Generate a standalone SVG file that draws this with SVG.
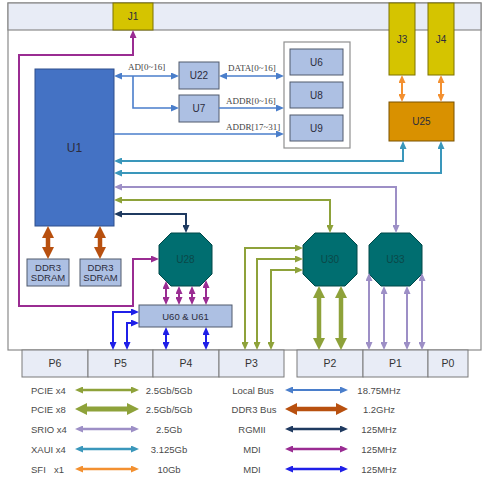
<svg xmlns="http://www.w3.org/2000/svg" width="493" height="484" viewBox="0 0 493 484">
<style>
text{font-family:"Liberation Sans",Arial,sans-serif;text-anchor:middle}
.frame{fill:#fff;stroke:#8a8a8a;stroke-width:1.2}
.bar{fill:#e8ecf6;stroke:#8a8a8a;stroke-width:1.2}
.port{fill:#e8ecf6;stroke:#7a7a7a;stroke-width:1}
.lbox{fill:#adc0e3;stroke:#505a6c;stroke-width:1}
.cont{fill:#fff;stroke:#8f8f8f;stroke-width:1.2}
.yel{fill:#d5c400;stroke:#7d7200;stroke-width:1}
.org{fill:#d99100;stroke:#7a5200;stroke-width:1}
.oct{fill:#006e70;stroke:#004848;stroke-width:1}
.u1{fill:#4472c4;stroke:#2e4f8c;stroke-width:1}
.nl{font-size:10px;fill:#2c2c3c}
.pl{font-size:10.5px;fill:#333}
.bl{font-family:"Liberation Serif","Times New Roman",serif;font-size:9px;fill:#444;text-anchor:start}
.lg{font-size:9.5px;fill:#4a4a4a}
.lgs{font-size:9.5px;fill:#4a4a4a;text-anchor:start}
#connectors path,#legend path{fill:none}
.lb{stroke:#4a7ecb;stroke-width:1.6}
.ddr{stroke:#b8500f;stroke-width:4.5}
.rg{stroke:#1f3a60;stroke-width:2}
.mdm{stroke:#9a2c92;stroke-width:2}
.mdb{stroke:#1f1fe8;stroke-width:2}
.pc{stroke:#8ea23a;stroke-width:2}
.pc8{stroke:#8ea23a;stroke-width:4.5}
.sr{stroke:#9d8fc6;stroke-width:2}
.xa{stroke:#3a97bb;stroke-width:2}
.sf{stroke:#f39030;stroke-width:2}
</style>
<defs>
<marker id="m-lb" viewBox="0 0 8 7" refX="3" refY="3.5" markerWidth="8" markerHeight="7" markerUnits="userSpaceOnUse" orient="auto-start-reverse"><path d="M0,0L8,3.5L0,7z" fill="#4a7ecb"/></marker>
<marker id="m-rg" viewBox="0 0 8 7" refX="3" refY="3.5" markerWidth="8" markerHeight="7" markerUnits="userSpaceOnUse" orient="auto-start-reverse"><path d="M0,0L8,3.5L0,7z" fill="#1f3a60"/></marker>
<marker id="m-mdm" viewBox="0 0 8 7" refX="3" refY="3.5" markerWidth="8" markerHeight="7" markerUnits="userSpaceOnUse" orient="auto-start-reverse"><path d="M0,0L8,3.5L0,7z" fill="#9a2c92"/></marker>
<marker id="m-mdb" viewBox="0 0 8 7" refX="3" refY="3.5" markerWidth="8" markerHeight="7" markerUnits="userSpaceOnUse" orient="auto-start-reverse"><path d="M0,0L8,3.5L0,7z" fill="#1f1fe8"/></marker>
<marker id="m-pc" viewBox="0 0 8 7" refX="3" refY="3.5" markerWidth="8" markerHeight="7" markerUnits="userSpaceOnUse" orient="auto-start-reverse"><path d="M0,0L8,3.5L0,7z" fill="#8ea23a"/></marker>
<marker id="m-sr" viewBox="0 0 8 7" refX="3" refY="3.5" markerWidth="8" markerHeight="7" markerUnits="userSpaceOnUse" orient="auto-start-reverse"><path d="M0,0L8,3.5L0,7z" fill="#9d8fc6"/></marker>
<marker id="m-xa" viewBox="0 0 8 7" refX="3" refY="3.5" markerWidth="8" markerHeight="7" markerUnits="userSpaceOnUse" orient="auto-start-reverse"><path d="M0,0L8,3.5L0,7z" fill="#3a97bb"/></marker>
<marker id="m-sf" viewBox="0 0 8 7" refX="3" refY="3.5" markerWidth="8" markerHeight="7" markerUnits="userSpaceOnUse" orient="auto-start-reverse"><path d="M0,0L8,3.5L0,7z" fill="#f39030"/></marker>
<marker id="m-ddr" viewBox="0 0 12 12" refX="5" refY="6" markerWidth="12" markerHeight="12" markerUnits="userSpaceOnUse" orient="auto-start-reverse"><path d="M0,0L12,6L0,12z" fill="#b8500f"/></marker>
<marker id="m-pc8" viewBox="0 0 12 12" refX="5" refY="6" markerWidth="12" markerHeight="12" markerUnits="userSpaceOnUse" orient="auto-start-reverse"><path d="M0,0L12,6L0,12z" fill="#8ea23a"/></marker>
</defs>

<g id="board">
<rect class="frame" x="8" y="3" width="473" height="347"/>
<rect class="bar" x="8" y="3" width="473" height="27"/>
</g>

<g id="ports">
<rect class="port" x="22" y="350" width="66" height="27"/><text class="pl" x="55" y="367">P6</text>
<rect class="port" x="88" y="350" width="65" height="27"/><text class="pl" x="120.5" y="367">P5</text>
<rect class="port" x="153" y="350" width="66" height="27"/><text class="pl" x="186" y="367">P4</text>
<rect class="port" x="219" y="350" width="65" height="27"/><text class="pl" x="251.5" y="367">P3</text>
<rect class="port" x="297" y="350" width="66" height="27"/><text class="pl" x="330" y="367">P2</text>
<rect class="port" x="363" y="350" width="65" height="27"/><text class="pl" x="395.5" y="367">P1</text>
<rect class="port" x="428" y="350" width="40" height="27"/><text class="pl" x="448" y="367">P0</text>
</g>

<g id="J1"><rect class="yel" x="113" y="3" width="40" height="27"/><text class="nl" x="133" y="20">J1</text></g>
<g id="J3"><rect class="yel" x="389" y="3" width="26" height="72"/><text class="nl" x="402" y="42.5">J3</text></g>
<g id="J4"><rect class="yel" x="428" y="3" width="26" height="72"/><text class="nl" x="441" y="42.5">J4</text></g>
<g id="U25"><rect class="org" x="389" y="102" width="65" height="39"/><text class="nl" x="421.5" y="125">U25</text></g>

<g id="U1"><rect class="u1" x="35" y="69" width="79" height="157"/><text class="nl" style="font-size:12px" x="74.5" y="151.5">U1</text></g>
<g id="U22"><rect class="lbox" x="179" y="62" width="40" height="27"/><text class="nl" x="199" y="79">U22</text></g>
<g id="U7"><rect class="lbox" x="179" y="95" width="40" height="27"/><text class="nl" x="199" y="112">U7</text></g>

<g id="memory">
<rect class="cont" x="284" y="42" width="66" height="106"/>
<g id="U6"><rect class="lbox" x="290" y="49" width="53" height="26"/><text class="nl" x="316.5" y="65.5">U6</text></g>
<g id="U8"><rect class="lbox" x="290" y="82" width="53" height="26"/><text class="nl" x="316.5" y="98.5">U8</text></g>
<g id="U9"><rect class="lbox" x="290" y="115" width="53" height="26"/><text class="nl" x="316.5" y="131.5">U9</text></g>
</g>

<g id="DDR3a"><rect class="lbox" x="27" y="259" width="42" height="27"/><text class="nl" style="font-size:9.5px" x="48" y="270.5">DDR3</text><text class="nl" style="font-size:9.5px" x="48" y="281">SDRAM</text></g>
<g id="DDR3b"><rect class="lbox" x="80" y="259" width="41" height="27"/><text class="nl" style="font-size:9.5px" x="100.5" y="270.5">DDR3</text><text class="nl" style="font-size:9.5px" x="100.5" y="281">SDRAM</text></g>

<g id="U28"><polygon class="oct" points="171,233 200,233 212,245 212,274 200,286 171,286 159,274 159,245"/><text class="nl" style="fill:#0a4848" x="185.5" y="263">U28</text></g>
<g id="U30"><polygon class="oct" points="315,233 345,233 357,245 357,274 345,286 315,286 303,274 303,245"/><text class="nl" style="fill:#0a4848" x="330" y="263">U30</text></g>
<g id="U33"><polygon class="oct" points="381,233 410,233 422,245 422,274 410,286 381,286 369,274 369,245"/><text class="nl" style="fill:#0a4848" x="395.5" y="263">U33</text></g>

<g id="U60_U61"><rect class="lbox" x="139" y="305" width="93" height="22"/><text class="nl" style="font-size:9.5px" x="185.5" y="319.5">U60 &amp; U61</text></g>

<g id="connectors">
<path class="lb" d="M119,76H174" marker-start="url(#m-lb)" marker-end="url(#m-lb)"/>
<path class="lb" d="M133,76V108H174" marker-end="url(#m-lb)"/>
<path class="lb" d="M224,76H279" marker-start="url(#m-lb)" marker-end="url(#m-lb)"/>
<path class="lb" d="M219,108H279" marker-end="url(#m-lb)"/>
<path class="lb" d="M114,134H279" marker-end="url(#m-lb)"/>
<text class="bl" x="128" y="70">AD[0~16]</text>
<text class="bl" x="228" y="71">DATA[0~16]</text>
<text class="bl" x="226" y="104">ADDR[0~16]</text>
<text class="bl" x="226" y="130">ADDR[17~31]</text>
<path class="sf" d="M402,80V97" marker-start="url(#m-sf)" marker-end="url(#m-sf)"/>
<path class="sf" d="M441,80V97" marker-start="url(#m-sf)" marker-end="url(#m-sf)"/>
<path class="xa" d="M119,161H403V146" marker-start="url(#m-xa)" marker-end="url(#m-xa)"/>
<path class="xa" d="M119,173H441V146" marker-start="url(#m-xa)" marker-end="url(#m-xa)"/>
<path class="sr" d="M119,187H396V228" marker-start="url(#m-sr)" marker-end="url(#m-sr)"/>
<path class="pc" d="M119,200H330V228" marker-start="url(#m-pc)" marker-end="url(#m-pc)"/>
<path class="rg" d="M119,214H186V228" marker-start="url(#m-rg)" marker-end="url(#m-rg)"/>
<path class="ddr" d="M48,233V252" marker-start="url(#m-ddr)" marker-end="url(#m-ddr)"/>
<path class="ddr" d="M100,233V252" marker-start="url(#m-ddr)" marker-end="url(#m-ddr)"/>
<path class="mdm" d="M133,35V55H19V306H133V259H154" marker-start="url(#m-mdm)" marker-end="url(#m-mdm)"/>
<path class="mdm" d="M166,286V300" marker-start="url(#m-mdm)" marker-end="url(#m-mdm)"/>
<path class="mdm" d="M179,291V300" marker-start="url(#m-mdm)" marker-end="url(#m-mdm)"/>
<path class="mdm" d="M192,291V300" marker-start="url(#m-mdm)" marker-end="url(#m-mdm)"/>
<path class="mdm" d="M206,285V300" marker-start="url(#m-mdm)" marker-end="url(#m-mdm)"/>
<path class="mdb" d="M113,345V312H134" marker-start="url(#m-mdb)" marker-end="url(#m-mdb)"/>
<path class="mdb" d="M127,345V323H134" marker-start="url(#m-mdb)" marker-end="url(#m-mdb)"/>
<path class="mdb" d="M166,332V345" marker-start="url(#m-mdb)" marker-end="url(#m-mdb)"/>
<path class="mdb" d="M206,332V345" marker-start="url(#m-mdb)" marker-end="url(#m-mdb)"/>
<path class="pc" d="M245,345V248H298" marker-start="url(#m-pc)" marker-end="url(#m-pc)"/>
<path class="pc" d="M257,345V259H298" marker-start="url(#m-pc)" marker-end="url(#m-pc)"/>
<path class="pc" d="M271,345V270H298" marker-start="url(#m-pc)" marker-end="url(#m-pc)"/>
<path class="pc8" d="M319,293V343" marker-start="url(#m-pc8)" marker-end="url(#m-pc8)"/>
<path class="pc8" d="M341,293V343" marker-start="url(#m-pc8)" marker-end="url(#m-pc8)"/>
<path class="sr" d="M369,278V345" marker-start="url(#m-sr)" marker-end="url(#m-sr)"/>
<path class="sr" d="M384,291V345" marker-start="url(#m-sr)" marker-end="url(#m-sr)"/>
<path class="sr" d="M407,291V345" marker-start="url(#m-sr)" marker-end="url(#m-sr)"/>
<path class="sr" d="M422,278V345" marker-start="url(#m-sr)" marker-end="url(#m-sr)"/>
</g>

<g id="legend">
<text class="lgs" x="31" y="393.5">PCIE x4</text>
<path class="pc" style="stroke-width:2.5" d="M80,390H134" marker-start="url(#m-pc)" marker-end="url(#m-pc)"/>
<text class="lg" x="169" y="393.5">2.5Gb/5Gb</text>
<text class="lgs" x="31" y="412.5">PCIE x8</text>
<path class="pc8" style="stroke-width:5" d="M82,409H132" marker-start="url(#m-pc8)" marker-end="url(#m-pc8)"/>
<text class="lg" x="169" y="412.5">2.5Gb/5Gb</text>
<text class="lgs" x="31" y="432.5">SRIO x4</text>
<path class="sr" style="stroke-width:2.5" d="M80,429H134" marker-start="url(#m-sr)" marker-end="url(#m-sr)"/>
<text class="lg" x="169" y="432.5">2.5Gb</text>
<text class="lgs" x="31" y="452.5">XAUI x4</text>
<path class="xa" style="stroke-width:2.5" d="M80,449H134" marker-start="url(#m-xa)" marker-end="url(#m-xa)"/>
<text class="lg" x="169" y="452.5">3.125Gb</text>
<text class="lgs" x="31" y="472.5">SFI<tspan x="54">x1</tspan></text>
<path class="sf" style="stroke-width:2.5" d="M80,469H134" marker-start="url(#m-sf)" marker-end="url(#m-sf)"/>
<text class="lg" x="169" y="472.5">10Gb</text>

<text class="lg" x="253" y="393.5">Local Bus</text>
<path class="lb" style="stroke-width:2" d="M290,390H343" marker-start="url(#m-lb)" marker-end="url(#m-lb)"/>
<text class="lg" x="379" y="393.5">18.75MHz</text>
<text class="lg" x="254" y="412.5">DDR3 Bus</text>
<path class="ddr" d="M292,409H341" marker-start="url(#m-ddr)" marker-end="url(#m-ddr)"/>
<text class="lg" x="379" y="412.5">1.2GHz</text>
<text class="lg" x="252" y="432.5">RGMII</text>
<path class="rg" style="stroke-width:2.5" d="M290,429H343" marker-start="url(#m-rg)" marker-end="url(#m-rg)"/>
<text class="lg" x="379" y="432.5">125MHz</text>
<text class="lg" x="252" y="452.5">MDI</text>
<path class="mdm" style="stroke-width:2.5" d="M290,449H343" marker-start="url(#m-mdm)" marker-end="url(#m-mdm)"/>
<text class="lg" x="379" y="452.5">125MHz</text>
<text class="lg" x="252" y="472.5">MDI</text>
<path class="mdb" style="stroke-width:2.5" d="M290,469H343" marker-start="url(#m-mdb)" marker-end="url(#m-mdb)"/>
<text class="lg" x="379" y="472.5">125MHz</text>
</g>
</svg>
